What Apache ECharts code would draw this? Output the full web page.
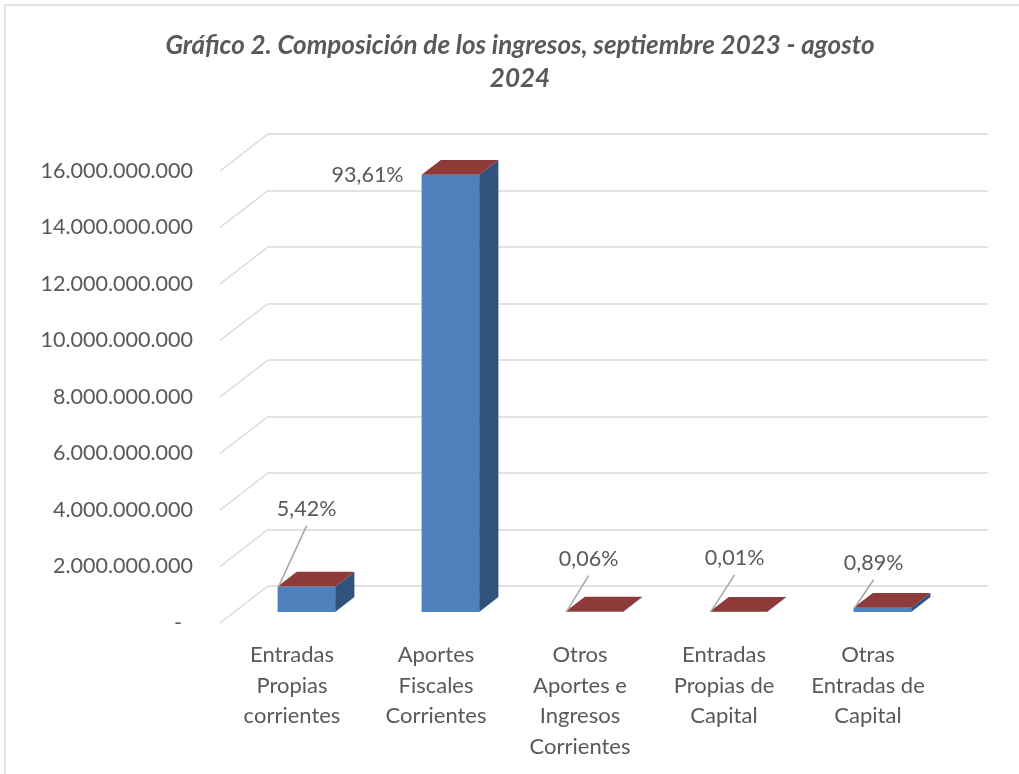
<!DOCTYPE html>
<html>
<head>
<meta charset="utf-8">
<script src="https://cdn.jsdelivr.net/npm/echarts@6/dist/echarts.min.js"></script>
<style>
  html, body { margin: 0; padding: 0; background: #fff; }
  #chart { width: 1019px; height: 774px; }
</style>
</head>
<body>
<div id="chart"></div>
<script>
// data
var categories = [
  'Entradas\nPropias\ncorrientes',
  'Aportes\nFiscales\nCorrientes',
  'Otros\nAportes e\nIngresos\nCorrientes',
  'Entradas\nPropias de\nCapital',
  'Otras\nEntradas de\nCapital'
];
var ingresos = [896000000, 15470000000, 9900000, 1650000, 147000000];
var porcentajes = [5.42, 93.61, 0.06, 0.01, 0.89];
var yTicks = [0, 2e9, 4e9, 6e9, 8e9, 10e9, 12e9, 14e9, 16e9];

// look
var FONT = 'Lato, "Open Sans", sans-serif';
var TEXT = '#595959';
var GRID = '#d9d9d9';
var DX = 48, DY = -37;          // depth of the floor/wall
var F0 = 0.3, F1 = 0.7;         // bar depth range (fraction of floor)
var BAR_W = 0.4;                // share of band
var FRONT = '#4f81bd', SIDE = '#31527c', TOP = '#8e3a39';
// label offset from bar front-top-left corner, and whether a leader line is drawn
var LABEL_POS = [[29, -78, true], [-54, 0, false], [23, -53, true], [25, -54, true], [20, -45, true]];

function fmtNum(v) {
  if (v === 0) return '-  ';
  return String(v).replace(/\B(?=(\d{3})+(?!\d))/g, '.');
}
function fmtPct(p) { return p.toFixed(2).replace('.', ',') + '%'; }

var chart = echarts.init(document.getElementById('chart'), null, { renderer: 'canvas' });
chart.setOption({
  animation: false,
  backgroundColor: '#fff',
  graphic: [
    { type: 'rect', shape: { x: 5, y: 5, width: 1100, height: 900 },
      style: { fill: 'none', stroke: GRID, lineWidth: 1.5 }, silent: true },
    { type: 'text', x: 520, y: 29,
      style: { text: 'Gráfico 2. Composición de los ingresos, septiembre 2023 - agosto\n2024',
        fill: TEXT, font: 'italic bold 26px ' + FONT, textAlign: 'center',
        lineHeight: 33, align: 'center', verticalAlign: 'top' } }
  ],
  grid: [
    { left: 220, right: 79, top: 171, bottom: 151 },
    { left: 268, right: 31, top: 134, bottom: 188 }
  ],
  xAxis: [
    { type: 'category', gridIndex: 0, data: categories,
      axisLine: { show: false }, axisTick: { show: false },
      axisLabel: { color: TEXT, fontFamily: FONT, fontSize: 22, lineHeight: 30.5, margin: 17, interval: 0 } },
    { type: 'category', gridIndex: 1, data: categories, show: false }
  ],
  yAxis: [
    { type: 'value', gridIndex: 0, min: 0, max: 16e9, interval: 2e9,
      axisLine: { show: false }, axisTick: { show: false }, splitLine: { show: false },
      axisLabel: { color: TEXT, fontFamily: FONT, fontSize: 21.5, margin: 27, formatter: fmtNum } },
    { type: 'value', gridIndex: 1, min: 0, max: 16e9, interval: 2e9,
      axisLine: { show: false }, axisTick: { show: false }, axisLabel: { show: false },
      splitLine: { show: true, lineStyle: { color: GRID, width: 1.5 } } }
  ],
  series: [
    {
      // left wall lines
      type: 'custom', xAxisIndex: 0, yAxisIndex: 0, silent: true, z: 1,
      data: yTicks.map(function (v) { return [0, v]; }),
      renderItem: function (params, api) {
        var p = api.coord([0, api.value(1)]);
        var x0 = p[0] - api.size([1, 0])[0] / 2;
        return { type: 'line', shape: { x1: x0, y1: p[1], x2: x0 + DX, y2: p[1] + DY },
          style: { stroke: GRID, lineWidth: 1.5 } };
      }
    },
    {
      type: 'custom', xAxisIndex: 0, yAxisIndex: 0, silent: true, z: 3,
      data: ingresos.map(function (v, i) { return [i, v, porcentajes[i]]; }),
      renderItem: function (params, api) {
        var i = api.value(0);
        var base = api.coord([i, 0]);
        var top = api.coord([i, api.value(1)]);
        var w = api.size([1, 0])[0] * BAR_W;
        var xl = base[0] - w / 2 + F0 * DX, xr = xl + w;
        var yb = base[1] + F0 * DY, yt = top[1] + F0 * DY;
        var ddx = (F1 - F0) * DX, ddy = (F1 - F0) * DY;
        var lp = LABEL_POS[i];
        var lx = xl + lp[0], ly = yt + lp[1];
        var kids = [
          { type: 'rect', shape: { x: xl, y: yt, width: w, height: yb - yt }, style: { fill: FRONT } },
          { type: 'polygon', shape: { points: [[xr, yt], [xr + ddx, yt + ddy], [xr + ddx, yb + ddy], [xr, yb]] },
            style: { fill: SIDE } },
          { type: 'polygon', shape: { points: [[xl, yt], [xr, yt], [xr + ddx, yt + ddy], [xl + ddx, yt + ddy]] },
            style: { fill: TOP } },
          { type: 'text', x: lx, y: ly,
            style: { text: fmtPct(api.value(2)), fill: TEXT, font: '21.5px ' + FONT,
              align: 'center', verticalAlign: 'middle' } }
        ];
        if (lp[2]) {
          kids.push({ type: 'line', shape: { x1: lx, y1: ly + 17, x2: xl + 1, y2: yt },
            style: { stroke: '#a6a6a6', lineWidth: 1.5 } });
        }
        return { type: 'group', children: kids };
      }
    }
  ]
});
</script>
</body>
</html>
